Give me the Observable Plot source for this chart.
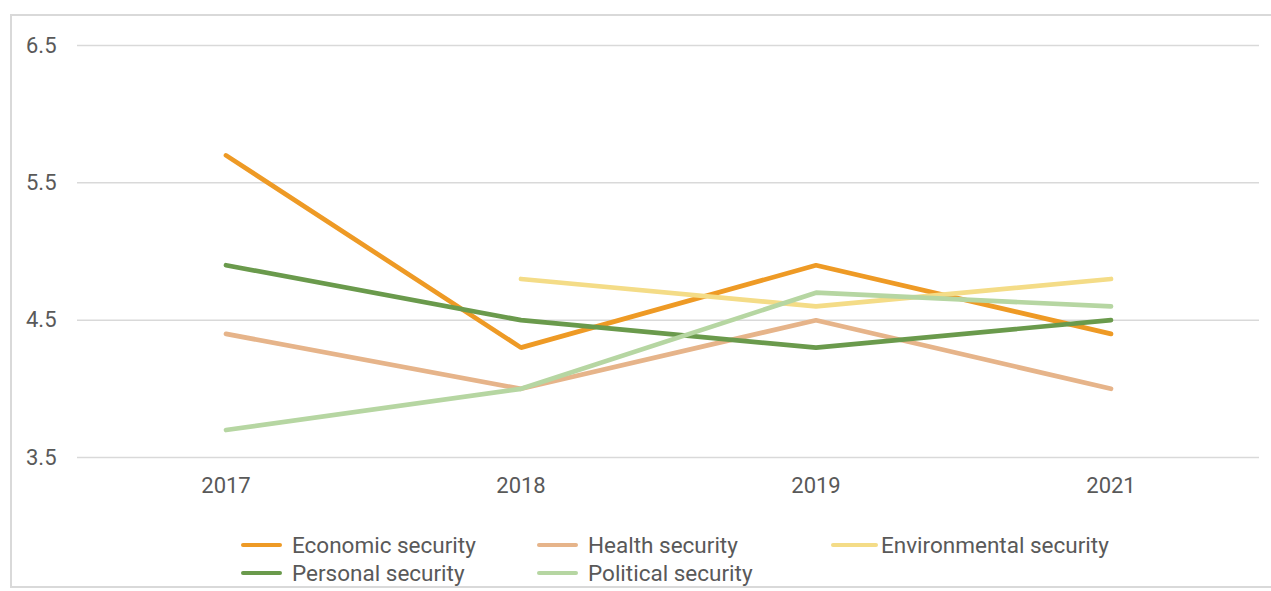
<!DOCTYPE html>
<html>
<head>
<meta charset="utf-8">
<script src="https://cdn.jsdelivr.net/npm/d3@7"></script>
<script src="https://cdn.jsdelivr.net/npm/@observablehq/plot@0.6"></script>
<style>
  html, body { margin: 0; padding: 0; background: #fff; width: 1271px; height: 591px; overflow: hidden; }
  #frame { position: absolute; left: 10px; top: 14px; width: 1300px; height: 574px; border: 2px solid #d9d9d9; border-right: none; box-sizing: border-box; }
  #chart { position: absolute; left: 0; top: 0; }
  #legend { position: absolute; left: 0; top: 515px; width: 1259px; font-family: Roboto, sans-serif; font-size: 22.5px; color: #595959; }
  .item { position: absolute; display: flex; align-items: center; white-space: nowrap; line-height: 28px; }
  .sw { width: 41px; height: 4.5px; border-radius: 3px; margin-right: 10px; }
</style>
</head>
<body>
<div id="frame">
  <div id="chart"></div>
  <div id="legend"></div>
</div>
<script>
const years = ["2017", "2018", "2019", "2021"];
const seriesNames = ["Economic security", "Health security", "Environmental security", "Personal security", "Political security"];
const seriesColors = ["#ee9a25", "#e6b48a", "#f4dc87", "#6a9a4c", "#b6d6a2"];
const economic = [5.7, 4.3, 4.9, 4.4];
const health = [4.4, 4.0, 4.5, 4.0];
const environmental = [null, 4.8, 4.6, 4.8];
const personal = [4.9, 4.5, 4.3, 4.5];
const political = [3.7, 4.0, 4.7, 4.6];
const yTicks = [3.5, 4.5, 5.5, 6.5];

const seriesValues = [economic, health, environmental, personal, political];
const rows = [];
seriesNames.forEach((name, i) => {
  years.forEach((yr, j) => {
    const v = seriesValues[i][j];
    if (v != null) rows.push({series: name, year: yr, value: v});
  });
});

const plot = Plot.plot({
  width: 1259,
  height: 500,
  marginLeft: 65,
  marginRight: 12,
  marginTop: 29,
  marginBottom: 59,
  style: { fontFamily: "Roboto, sans-serif", fontSize: "22px", color: "#595959", background: "transparent" },
  x: { type: "band", domain: years, padding: 0, label: null },
  y: { domain: [3.5, 6.5], label: null },
  color: { domain: seriesNames, range: seriesColors },
  marks: [
    Plot.ruleY(yTicks, { stroke: "#d9d9d9", strokeWidth: 1.5 }),
    Plot.axisY({ ticks: yTicks, tickSize: 0, tickPadding: 21, tickFormat: d3.format(".1f"), label: null, fill: "#595959" }),
    Plot.axisX({ tickSize: 0, tickPadding: 20, label: null, fill: "#595959" }),
    Plot.line(rows, {
      x: "year", y: "value", z: "series", stroke: "series",
      strokeWidth: 4.7, strokeLinecap: "round", strokeLinejoin: "miter", strokeOpacity: 1
    })
  ]
});
document.getElementById("chart").appendChild(plot);

const legend = document.getElementById("legend");
const positions = [[229, 0], [525, 0], [819, 0], [229, 28], [525, 28]];
seriesNames.forEach((name, i) => {
  const it = document.createElement("div");
  it.className = "item";
  it.style.left = positions[i][0] + "px";
  it.style.top = positions[i][1] + "px";
  const sw = document.createElement("div");
  sw.className = "sw";
  sw.style.background = seriesColors[i];
  if (i === 2) { sw.style.width = "47px"; sw.style.marginRight = "3px"; }
  it.appendChild(sw);
  const t = document.createElement("span");
  t.textContent = name;
  it.appendChild(t);
  legend.appendChild(it);
});
</script>
</body>
</html>
